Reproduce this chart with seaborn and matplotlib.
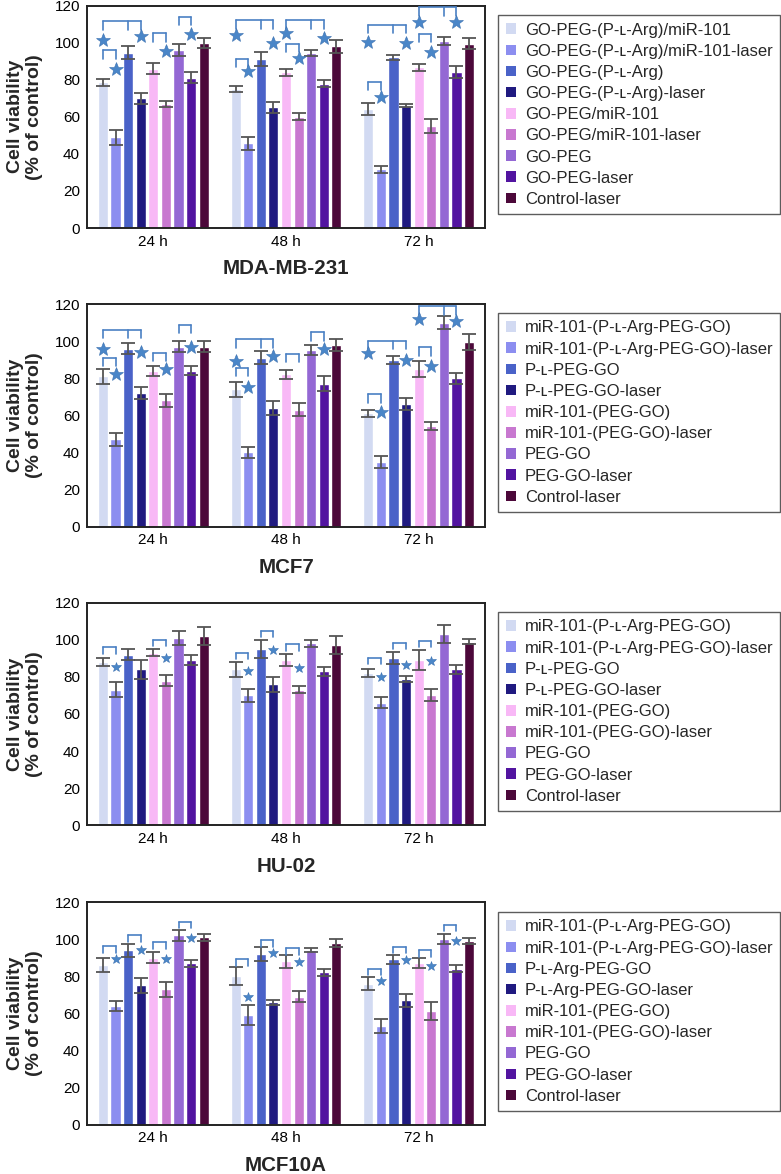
import numpy as np
import pandas as pd
import matplotlib
matplotlib.use("Agg")
import matplotlib.pyplot as plt
import seaborn as sns
from matplotlib.patches import Patch

sns.set_theme(style="white")
plt.rcParams['font.family'] = ['Liberation Sans', 'DejaVu Sans']

# ---- data -----------------------------------------------------------------
times = ["24 h", "48 h", "72 h"]

colors = ["#d2daf2", "#8c8ef0", "#4a62c8", "#201a80", "#f8b8f6",
          "#c878d0", "#9468d4", "#5214a0", "#4c083a"]

labels_mda = ["GO-PEG-(P-ʟ-Arg)/miR-101", "GO-PEG-(P-ʟ-Arg)/miR-101-laser",
              "GO-PEG-(P-ʟ-Arg)", "GO-PEG-(P-ʟ-Arg)-laser", "GO-PEG/miR-101",
              "GO-PEG/miR-101-laser", "GO-PEG", "GO-PEG-laser", "Control-laser"]
labels_mcf7 = ["miR-101-(P-ʟ-Arg-PEG-GO)", "miR-101-(P-ʟ-Arg-PEG-GO)-laser",
               "P-ʟ-PEG-GO", "P-ʟ-PEG-GO-laser", "miR-101-(PEG-GO)",
               "miR-101-(PEG-GO)-laser", "PEG-GO", "PEG-GO-laser", "Control-laser"]
labels_hu02 = labels_mcf7
labels_mcf10a = ["miR-101-(P-ʟ-Arg-PEG-GO)", "miR-101-(P-ʟ-Arg-PEG-GO)-laser",
                 "P-ʟ-Arg-PEG-GO", "P-ʟ-Arg-PEG-GO-laser", "miR-101-(PEG-GO)",
                 "miR-101-(PEG-GO)-laser", "PEG-GO", "PEG-GO-laser", "Control-laser"]

# mean viability, one row per time point (9 treatments each)
mda_mean = [[78.5, 49, 94.4, 70, 86, 67, 96, 81, 100],
            [75, 45.7, 91, 65, 84, 60, 94.4, 77.8, 98],
            [64, 31.6, 92, 66, 86.6, 55, 101, 84, 99.5]]
mda_err = [[2, 4, 3.5, 3, 3, 1.5, 3, 3, 2.7],
           [1.7, 3.4, 3.7, 3, 2, 1.8, 1.6, 2, 3.4],
           [3.2, 2, 1.2, 1, 2, 4, 2.2, 3.3, 3]]

mcf7_mean = [[81, 47, 96, 72, 84, 68, 97, 84, 97],
             [74, 40, 91, 64, 82, 63, 95, 77, 98],
             [61, 35, 90, 66, 85, 54, 110, 80, 99.6]]
mcf7_err = [[4, 3.4, 3, 3, 2.7, 3.6, 3, 2.3, 3],
            [3.9, 3, 3.6, 3.9, 2.3, 3.6, 2.7, 4, 3.3],
            [1.8, 3.2, 2.2, 3.3, 4.5, 2.2, 3.6, 3, 4.2]]

hu02_mean = [[88, 73, 92, 84, 93, 78, 101, 89, 102],
             [84, 70, 95, 76, 89, 73, 98, 83, 97],
             [82, 66, 90, 79, 89, 70, 103, 84, 99]]
hu02_err = [[2.4, 4, 3, 5, 2, 3, 3.8, 2.8, 5],
            [4, 3.3, 4.9, 4, 3.4, 1.9, 1.9, 2.4, 4.8],
            [2, 3, 3.2, 1.5, 5.4, 3.2, 5, 2.4, 1.4]]

mcf10a_mean = [[86, 64, 94, 75, 90, 73, 102, 87, 101],
               [80, 59, 92, 66, 88, 69, 94, 82, 98],
               [76, 53, 89, 67, 87, 61, 100, 84, 99]]
mcf10a_err = [[4, 2.6, 3.6, 4, 3, 4, 3, 1.8, 1.9],
              [4.8, 5.6, 3.6, 1.4, 3.6, 2.9, 1, 1.9, 2.3],
              [3.4, 3.9, 2.5, 3.4, 2.6, 4.9, 2.6, 1.8, 1.5]]

# significance brackets: (time index, bar indices with ticks, height)
mda_brackets = [(0, [0, 2, 3], 111.5), (0, [0, 1], 95.8), (0, [4, 5], 105), (0, [6, 7], 114),
                (1, [0, 2, 3], 112), (1, [0, 1], 91.3), (1, [4, 6, 7], 112), (1, [4, 5], 99.3),
                (2, [0, 2, 3], 109.7), (2, [0, 1], 79), (2, [4, 6, 7], 119), (2, [4, 5], 104.7)]
mda_stars = [(0, 0, 101.6), (0, 3, 103.8), (0, 1, 86), (0, 5, 95.3), (0, 7, 104.7),
             (1, 0, 104), (1, 3, 99.8), (1, 1, 84.5), (1, 4, 105), (1, 7, 102.5), (1, 5, 91.7),
             (2, 0, 100.4), (2, 3, 99.8), (2, 1, 70.4), (2, 4, 111), (2, 7, 111), (2, 5, 95)]

mcf7_brackets = [(0, [0, 2, 3], 106), (0, [0, 1], 91), (0, [4, 5], 93.5), (0, [6, 7], 108.7),
                 (1, [0, 2, 3], 101), (1, [0, 1], 85.4), (1, [4, 5], 93), (1, [6, 7], 104.7),
                 (2, [0, 2, 3], 100), (2, [0, 1], 71.3), (2, [4, 5], 96.6), (2, [4, 6, 7], 118.8)]
mcf7_stars = [(0, 0, 96), (0, 3, 94), (0, 1, 82.5), (0, 5, 84.8), (0, 7, 97),
              (1, 0, 89.4), (1, 3, 92), (1, 1, 75), (1, 7, 96),
              (2, 0, 93.5), (2, 3, 90), (2, 1, 61.7), (2, 5, 86.6), (2, 4, 112), (2, 7, 110.6)]

hu02_brackets = [(0, [0, 1], 96), (0, [4, 5], 100),
                 (1, [0, 1], 93), (1, [2, 3], 105), (1, [4, 5], 97.5),
                 (2, [0, 1], 90.3), (2, [2, 3], 98.4), (2, [4, 5], 99.6)]
hu02_stars = [(0, 1, 85.2), (0, 5, 90), (1, 1, 83), (1, 3, 94.6), (1, 5, 84.7),
              (2, 1, 80), (2, 3, 86.6), (2, 5, 88.8)]

mcf10a_brackets = [(0, [0, 1], 96.2), (0, [2, 3], 102), (0, [4, 5], 98.4), (0, [6, 7], 109.4),
                   (1, [0, 1], 89), (1, [2, 3], 99.3), (1, [4, 5], 95),
                   (2, [0, 1], 84), (2, [2, 3], 95.8), (2, [4, 5], 94), (2, [6, 7], 107.6)]
mcf10a_stars = [(0, 1, 89.4), (0, 3, 94), (0, 5, 89), (0, 7, 100.7),
                (1, 1, 68.6), (1, 3, 92.6), (1, 5, 87.5),
                (2, 1, 77.3), (2, 3, 88.6), (2, 5, 85.4), (2, 7, 99)]

panels = [
    ("MDA-MB-231", labels_mda, mda_mean, mda_err, mda_brackets, mda_stars, 10, 4.5),
    ("MCF7", labels_mcf7, mcf7_mean, mcf7_err, mcf7_brackets, mcf7_stars, 10, 4.5),
    ("HU-02", labels_hu02, hu02_mean, hu02_err, hu02_brackets, hu02_stars, 7.5, 3.5),
    ("MCF10A", labels_mcf10a, mcf10a_mean, mcf10a_err, mcf10a_brackets, mcf10a_stars, 7.5, 3.5),
]

# ---- layout (figure pixels) -----------------------------------------------
W, H = 781, 1174
ax_tops = [5.5, 304, 602.7, 902]
ax_h = 222.5
leg_tops = [15, 313, 612, 912]
bracket_color = "#4a80c4"

fig = plt.figure(figsize=(W / 100, H / 100), dpi=100)

for k, (name, labels, mean, err, brackets, stars, star_size, tick_len) in enumerate(panels):
    ax = fig.add_axes([87 / W, 1 - (ax_tops[k] + ax_h) / H, (485 - 87) / W, ax_h / H])

    rows = []
    for t, time in enumerate(times):
        for i, lab in enumerate(labels):
            rows.append({"time": time, "treatment": lab, "viability": mean[t][i]})
    df = pd.DataFrame(rows)

    sns.barplot(data=df, x="time", y="viability", hue="treatment", hue_order=labels,
                palette=colors, saturation=1, errorbar=None, width=0.855, gap=0.2,
                legend=False, ax=ax)

    # bar centres for error bars and annotations
    bar_conts = list(ax.containers)
    centers = np.zeros((3, 9))
    for i, cont in enumerate(bar_conts):
        for t, bar in enumerate(cont):
            centers[t, i] = bar.get_x() + bar.get_width() / 2
    for i in range(9):
        ax.errorbar(centers[:, i], [m[i] for m in mean], yerr=[e[i] for e in err], fmt="none",
                    ecolor="#555555", elinewidth=1.3, capsize=4.8, capthick=1.3, zorder=3)

    for t, idx, y in brackets:
        xs = [centers[t, i] for i in idx]
        ax.plot([xs[0], xs[-1]], [y, y], color=bracket_color, lw=1.2, zorder=4)
        for x in xs:
            ax.plot([x, x], [y, y - tick_len], color=bracket_color, lw=1.2, zorder=4)

    for t, i, y in stars:
        ax.plot(centers[t, i], y, marker="*", ms=star_size, color="#4a86c8",
                markeredgecolor="#3a70b0", markeredgewidth=0.4, zorder=5)

    ax.set_ylim(0, 120)
    ax.set_xlim(-0.5, 2.5)
    ax.set_yticks(range(0, 121, 20))
    ax.tick_params(axis="both", length=0, labelsize=11, colors="black", pad=5)
    ax.set_ylabel("Cell viability\n(% of control)", fontsize=14, fontweight="bold",
                  labelpad=8, linespacing=1.2)
    ax.set_xlabel(name, fontsize=14.8, fontweight="bold", labelpad=7.5)
    for sp in ax.spines.values():
        sp.set_visible(True)
        sp.set_color("#222222")
        sp.set_linewidth(1.4)

    handles = [Patch(facecolor=c, edgecolor="none") for c in colors]
    ax.legend(handles, labels, loc="upper left",
              bbox_to_anchor=(498 / W, 1 - leg_tops[k] / H, (780 - 498) / W, 0),
              bbox_transform=fig.transFigure, mode="expand", fancybox=False,
              frameon=True, edgecolor="#333333", fontsize=12,
              handlelength=0.6, handleheight=0.6, handletextpad=0.55,
              labelspacing=0.37, borderaxespad=0, borderpad=0.45)
    ax.get_legend().get_frame().set_linewidth(1.0)

fig.savefig("out.png", dpi=100)
